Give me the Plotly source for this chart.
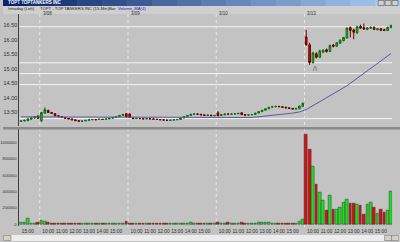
import plotly.graph_objects as go

# ---------------- data ----------------
DAY_LABELS = ["3/07", "3/08", "3/09", "3/10", "3/13"]
DAY_START_INDEX = [0, 6, 32, 58, 84]

OPEN = [13.20, 13.21, 13.22, 13.27, 13.31, 13.38,
        13.22, 13.48, 13.57, 13.50, 13.46, 13.39, 13.36, 13.33, 13.30, 13.28, 13.25, 13.22, 13.20,
        13.21, 13.23, 13.25, 13.26, 13.26, 13.27, 13.27, 13.28, 13.30, 13.33, 13.36, 13.40, 13.46,
        13.45, 13.32, 13.29, 13.30, 13.29, 13.28, 13.29, 13.28, 13.27, 13.26, 13.25, 13.24, 13.23,
        13.24, 13.25, 13.26, 13.31, 13.36, 13.40, 13.44, 13.45, 13.44, 13.42, 13.40, 13.41, 13.39,
        13.49, 13.40, 13.42, 13.45, 13.44, 13.45, 13.46, 13.49, 13.43, 13.41, 13.42, 13.43, 13.48,
        13.53, 13.58, 13.63, 13.69, 13.70, 13.71, 13.70, 13.68, 13.66, 13.64, 13.62, 13.63, 13.71,
        16.10, 15.83, 15.22, 15.52, 15.40, 15.58, 15.66, 15.60, 15.82, 15.78, 15.88, 15.97, 16.06,
        16.42, 16.34, 16.24, 16.46, 16.42, 16.36, 16.40, 16.43, 16.35, 16.38, 16.35, 16.32, 16.42]
HIGH = [13.23, 13.25, 13.30, 13.34, 13.38, 13.40,
        13.52, 13.68, 13.60, 13.52, 13.48, 13.41, 13.37, 13.34, 13.31, 13.29, 13.26, 13.23, 13.22,
        13.24, 13.26, 13.27, 13.27, 13.28, 13.28, 13.29, 13.31, 13.34, 13.37, 13.41, 13.44, 13.48,
        13.47, 13.33, 13.31, 13.31, 13.30, 13.30, 13.30, 13.29, 13.28, 13.27, 13.26, 13.25, 13.25,
        13.26, 13.27, 13.32, 13.37, 13.41, 13.45, 13.47, 13.47, 13.45, 13.43, 13.42, 13.42, 13.41,
        13.55, 13.44, 13.46, 13.47, 13.46, 13.48, 13.48, 13.50, 13.44, 13.43, 13.44, 13.49, 13.54,
        13.59, 13.64, 13.69, 13.72, 13.73, 13.73, 13.72, 13.70, 13.68, 13.66, 13.65, 13.74, 13.84,
        16.34, 15.90, 15.58, 15.57, 15.66, 15.68, 15.70, 15.84, 15.86, 15.92, 16.01, 16.10, 16.43,
        16.46, 16.38, 16.48, 16.52, 16.56, 16.44, 16.46, 16.46, 16.40, 16.41, 16.38, 16.45, 16.52]
LOW = [13.18, 13.19, 13.20, 13.25, 13.29, 13.28,
       13.17, 13.45, 13.48, 13.45, 13.37, 13.34, 13.31, 13.29, 13.27, 13.24, 13.21, 13.19, 13.18,
       13.20, 13.22, 13.24, 13.25, 13.25, 13.26, 13.26, 13.27, 13.29, 13.32, 13.35, 13.39, 13.33,
       13.31, 13.28, 13.28, 13.28, 13.27, 13.27, 13.27, 13.26, 13.25, 13.24, 13.23, 13.22, 13.22,
       13.23, 13.24, 13.25, 13.30, 13.35, 13.39, 13.42, 13.43, 13.41, 13.39, 13.38, 13.38, 13.37,
       13.37, 13.38, 13.41, 13.43, 13.42, 13.44, 13.44, 13.41, 13.40, 13.40, 13.41, 13.42, 13.47,
       13.52, 13.57, 13.62, 13.67, 13.68, 13.69, 13.67, 13.65, 13.63, 13.61, 13.60, 13.62, 13.70,
       15.80, 15.14, 15.18, 15.36, 15.37, 15.54, 15.56, 15.58, 15.74, 15.76, 15.86, 15.95, 16.04,
       16.08, 16.02, 16.20, 16.38, 16.34, 16.33, 16.37, 16.33, 16.32, 16.30, 16.30, 16.30, 16.40]
CLOSE = [13.21, 13.23, 13.28, 13.32, 13.36, 13.30,
         13.50, 13.60, 13.50, 13.47, 13.39, 13.36, 13.33, 13.30, 13.28, 13.25, 13.22, 13.20, 13.21,
         13.23, 13.25, 13.26, 13.25, 13.27, 13.26, 13.28, 13.30, 13.33, 13.36, 13.40, 13.43, 13.35,
         13.33, 13.29, 13.30, 13.29, 13.28, 13.29, 13.28, 13.27, 13.26, 13.25, 13.24, 13.23, 13.24,
         13.25, 13.26, 13.31, 13.36, 13.40, 13.44, 13.45, 13.44, 13.42, 13.40, 13.41, 13.39, 13.40,
         13.39, 13.42, 13.45, 13.44, 13.45, 13.46, 13.47, 13.43, 13.41, 13.42, 13.43, 13.48, 13.53,
         13.58, 13.63, 13.68, 13.70, 13.71, 13.70, 13.68, 13.66, 13.64, 13.62, 13.64, 13.72, 13.82,
         15.83, 15.22, 15.55, 15.40, 15.62, 15.64, 15.60, 15.80, 15.78, 15.90, 15.99, 16.08, 16.40,
         16.32, 16.26, 16.45, 16.40, 16.37, 16.41, 16.43, 16.36, 16.38, 16.33, 16.32, 16.43, 16.49]
VOLUME = [18000, 22000, 73000, 12000, 9000, 24000,
          49000, 35000, 24000, 12000, 8000, 6000, 5000, 10000, 6000, 4000, 5000, 8000, 6000,
          4000, 3000, 5000, 4000, 6000, 9000, 5000, 4000, 7000, 6000, 8000, 10000, 35000,
          12000, 6000, 4000, 5000, 3000, 6000, 9000, 12000, 6000, 5000, 4000, 3000, 4000,
          5000, 3000, 8000, 12000, 9000, 14000, 10000, 8000, 6000, 5000, 12000, 8000, 10000,
          18000, 12000, 8000, 15000, 9000, 6000, 10000, 14000, 8000, 6000, 9000, 12000, 16000,
          22000, 14000, 20000, 9000, 8000, 10000, 7000, 9000, 8000, 6000, 10000, 30000, 52000,
          1097000, 915000, 707000, 488000, 390000, 293000, 171000, 354000, 183000, 183000, 207000, 268000, 305000,
          256000, 256000, 244000, 232000, 122000, 244000, 268000, 207000, 134000, 183000, 146000, 171000, 402000]

MA_INDEX = [0, 30, 55, 68, 80, 82, 84, 87, 96, 109]
MA_VALUE = [13.35, 13.33, 13.32, 13.33, 13.48, 13.52, 13.60, 13.80, 14.42, 15.53]

LEVEL_LINES = [16.45, 15.21, 14.84, 14.46, 13.29]

PRICE_TICKS = [13.5, 14.0, 14.5, 15.0, 15.5, 16.0, 16.5]
VOLUME_TICKS = [0, 200000, 400000, 600000, 800000, 1000000]
TIME_TICK_INDEX = [2, 8, 12, 16, 20, 24, 28, 34, 38, 42, 46, 50, 54,
                   60, 64, 68, 72, 76, 80, 86, 90, 94, 98, 102, 106]
TIME_TICK_TEXT = ["15:00", "10:00", "11:00", "12:00", "13:00", "14:00", "15:00",
                  "10:00", "11:00", "12:00", "13:00", "14:00", "15:00",
                  "10:00", "11:00", "12:00", "13:00", "14:00", "15:00",
                  "10:00", "11:00", "12:00", "13:00", "14:00", "15:00"]

# ---------------- figure ----------------
W, H = 400, 242
FONT = "Liberation Sans"
BG = "#c3c3c3"
GREEN, GREEN_LINE = "#22dd22", "#0e6a0e"
RED, RED_LINE = "#d81010", "#6a0000"

def fx(p):
    return p / W

def fy(p):
    return 1 - p / H

idx = list(range(len(OPEN)))
vol_colors = [GREEN if c >= o else RED for o, c in zip(OPEN, CLOSE)]

fig = go.Figure()
fig.add_trace(go.Candlestick(
    x=idx, open=OPEN, high=HIGH, low=LOW, close=CLOSE,
    increasing=dict(line=dict(color=GREEN_LINE, width=1), fillcolor=GREEN),
    decreasing=dict(line=dict(color=RED_LINE, width=1), fillcolor=RED),
    whiskerwidth=0, xaxis="x", yaxis="y", showlegend=False, hoverinfo="skip"))
fig.add_trace(go.Scatter(
    x=MA_INDEX, y=MA_VALUE, mode="lines", line=dict(color="#5a5a9e", width=1),
    xaxis="x", yaxis="y", showlegend=False, hoverinfo="skip"))
fig.add_trace(go.Bar(
    x=idx, y=VOLUME, marker=dict(color=vol_colors, line=dict(color="#303030", width=0.5)),
    width=0.8, xaxis="x2", yaxis="y2", showlegend=False, hoverinfo="skip"))

xr = [-0.5, 109.3]
xdom = [fx(16.5), fx(392)]
fig.update_layout(
    width=W, height=H, margin=dict(l=0, r=0, t=0, b=0),
    paper_bgcolor=BG, plot_bgcolor=BG,
    font=dict(family=FONT, size=6, color="#202020"),
    bargap=0,
    xaxis=dict(domain=xdom, range=xr, showticklabels=False, showgrid=False, zeroline=False,
               rangeslider=dict(visible=False), anchor="y", fixedrange=True),
    yaxis=dict(domain=[fy(127), fy(14)], range=[13.02, 16.89], tickvals=PRICE_TICKS,
               ticktext=[f"{v:.2f}" for v in PRICE_TICKS], showgrid=False, zeroline=False,
               tickfont=dict(size=5.5, color="#303030"), ticks="", showline=True,
               linecolor="#404040", linewidth=1, anchor="x"),
    xaxis2=dict(domain=xdom, range=xr, tickvals=TIME_TICK_INDEX, ticktext=TIME_TICK_TEXT,
                tickfont=dict(size=4.8, color="#303030"), ticks="", tickangle=0,
                showgrid=False, zeroline=False, anchor="y2", ticklabelstandoff=1),
    yaxis2=dict(domain=[fy(227), fy(130)], range=[-24000, 1158000], tickvals=VOLUME_TICKS,
                ticktext=[str(v) for v in VOLUME_TICKS], showgrid=False, zeroline=False,
                tickfont=dict(size=4.2, color="#303030"), ticks="", showline=True,
                linecolor="#404040", linewidth=1, anchor="x2", ticklabelstandoff=1),
)

shapes = []
# title bar gradient
steps = 16
c0, c1 = (10, 36, 106), (166, 202, 240)
for k in range(steps):
    t = k / (steps - 1)
    col = "rgb(%d,%d,%d)" % tuple(int(a + (b - a) * t) for a, b in zip(c0, c1))
    shapes.append(dict(type="rect", xref="paper", yref="paper", x0=fx(W * k / steps),
                       x1=fx(W * (k + 1) / steps) + 0.001, y0=fy(6), y1=fy(0),
                       fillcolor=col, line=dict(width=0), layer="above"))
# window buttons
for bx in (378, 385, 392):
    shapes.append(dict(type="rect", xref="paper", yref="paper", x0=fx(bx), x1=fx(bx + 6),
                       y0=fy(5.5), y1=fy(0.5), fillcolor="#d4d0c8",
                       line=dict(color="#404040", width=0.5), layer="above"))
# header strip
shapes.append(dict(type="rect", xref="paper", yref="paper", x0=0, x1=1, y0=fy(14), y1=fy(6),
                   fillcolor="#cfcfcf", line=dict(width=0), layer="below"))
# level lines
for lv in LEVEL_LINES:
    shapes.append(dict(type="line", xref="paper", yref="y", x0=xdom[0], x1=xdom[1], y0=lv, y1=lv,
                       line=dict(color="#f4f4f4", width=1), layer="below"))
# day separators
for s in DAY_START_INDEX[1:]:
    shapes.append(dict(type="line", xref="x", yref="paper", x0=s - 0.5, x1=s - 0.5,
                       y0=fy(228), y1=fy(14), line=dict(color="#e8e8e8", width=1, dash="dot"),
                       layer="below"))
# pane separator
shapes.append(dict(type="rect", xref="paper", yref="paper", x0=0, x1=1, y0=fy(130), y1=fy(127.5),
                   fillcolor="#8a8a8a", line=dict(width=0), layer="above"))
# scrollbar
shapes.append(dict(type="rect", xref="paper", yref="paper", x0=0, x1=1, y0=0, y1=fy(236),
                   fillcolor="#ececec", line=dict(width=0), layer="above"))
for bx in (0, 384, 391):
    shapes.append(dict(type="rect", xref="paper", yref="paper", x0=fx(bx + 0.5), x1=fx(bx + 8),
                       y0=fy(241.5), y1=fy(236.5), fillcolor="#d4d0c8",
                       line=dict(color="#606060", width=0.5), layer="above"))
fig.update_layout(shapes=shapes)

ann = []
ann.append(dict(text="<b>TOPT TOPTANKERS INC</b>", x=fx(3), y=fy(3), xref="paper", yref="paper",
                xanchor="left", yanchor="middle", showarrow=False,
                font=dict(size=4.5, color="white", family=FONT)))
for txt, x0, col in [("Intraday (Left)", 3, "#202020"),
                     ("TOPT - TOP TANKERS INC (15-Min)", 35, "#202020"),
                     ("Bar", 105, "#202020"),
                     ("Volume_MA(4)", 114, "#2020c0")]:
    ann.append(dict(text=txt, x=fx(x0), y=fy(8.5), xref="paper", yref="paper", xanchor="left",
                    yanchor="middle", showarrow=False, font=dict(size=4.2, color=col, family=FONT)))
for lab, s in zip(DAY_LABELS[1:], DAY_START_INDEX[1:]):
    ann.append(dict(text=lab, x=s - 0.5, y=fy(14), xref="x", yref="paper", xanchor="left",
                    yanchor="middle", xshift=1, showarrow=False,
                    font=dict(size=4.5, color="#303030", family=FONT)))
ann.append(dict(text="/\\", x=86.5, y=15.02, xref="x", yref="y", showarrow=False,
                font=dict(size=7, color="#505050", family=FONT)))
fig.update_layout(annotations=ann)

fig.write_html("out.html")
